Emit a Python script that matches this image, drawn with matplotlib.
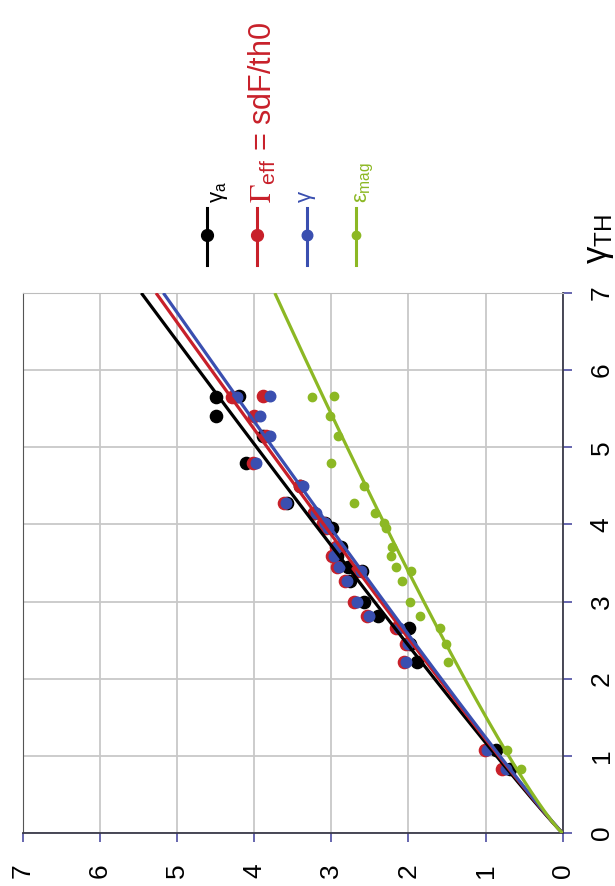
import numpy as np
import matplotlib.pyplot as plt

plt.rcParams['font.family'] = ['Liberation Sans', 'DejaVu Sans']
plt.rcParams['mathtext.fontset'] = 'custom'
plt.rcParams['mathtext.rm'] = 'Liberation Sans'
plt.rcParams['mathtext.it'] = 'Liberation Sans'
plt.rcParams['mathtext.sf'] = 'Liberation Sans'
plt.rcParams['mathtext.bf'] = 'Liberation Sans:bold'

# gamma_TH for each sample (original x axis)
gth = [0.83, 1.07, 2.22, 2.45, 2.66, 2.81, 3.00, 3.27, 3.39, 3.45, 3.59,
       3.71, 3.95, 4.02, 4.15, 4.28, 4.50, 4.79, 5.15, 5.40, 5.65, 5.67]
gamma_a = [0.68, 0.87, 1.89, 1.98, 1.99, 2.39, 2.58, 2.76, 2.60, 2.78, 2.93,
           2.88, 2.99, 3.08, 3.22, 3.58, 3.40, 4.11, 3.89, 4.50, 4.50, 4.20]
gamma_eff = [0.78, 1.01, 2.06, 2.03, 2.16, 2.54, 2.70, 2.82, 2.66, 2.92, 2.99,
             2.94, 3.07, 3.11, 3.23, 3.61, 3.40, 4.02, 3.84, 4.00, 4.29, 3.89]
gamma = [0.74, 0.98, 2.03, 2.00, 2.12, 2.51, 2.67, 2.80, 2.62, 2.90, 2.97,
         2.92, 3.04, 3.08, 3.20, 3.59, 3.37, 3.98, 3.79, 3.93, 4.22, 3.79]
eps_mag = [0.54, 0.72, 1.49, 1.51, 1.59, 1.85, 1.98, 2.08, 1.97, 2.16, 2.22,
           2.21, 2.29, 2.31, 2.43, 2.70, 2.58, 3.00, 2.91, 3.01, 3.25, 2.96]

# power-law trend lines  y = a * gth**b
fit_a = [0.86, 0.83, 0.815, 0.70]
fit_b = [0.95, 0.95, 0.95, 0.86]

series = [gamma_a, gamma_eff, gamma, eps_mag]
colors = ['#000000', '#c8202a', '#3a4fb0', '#8cb824']
msizes = [8.8, 8.8, 7.6, 6.0]
labels = [r'$\gamma_{a}$', r'$\Gamma_{\mathregular{eff}}$ = sdF/th0', r'$\gamma$',
          r'$\varepsilon_{mag}$']
ticks = [0, 1, 2, 3, 4, 5, 6, 7]
tick_labels = ['0', '1', '2', '3', '4', '5', '6', '7']

fig = plt.figure(figsize=(6.15, 8.86), dpi=100)

# overlay in pixel coordinates for the rotated legend and axis title
leg = fig.add_axes([0, 0, 1, 1])
leg.set_xlim(0, 615)
leg.set_ylim(886, 0)
leg.axis('off')

ax = fig.add_axes([0.0369, 0.0598, 0.878, 0.6095])

# the chart is drawn rotated: value runs right-to-left, gamma_TH bottom-to-top
for vals, c, ms in zip(series, colors, msizes):
    ax.plot(vals, gth, 'o', ms=ms, color=c, mec=c, zorder=3)

xs = np.linspace(0, 7, 300)
for a, b, c in zip(fit_a, fit_b, colors):
    ax.plot(a * xs ** b, xs, color=c, lw=2.3, zorder=4, solid_capstyle='butt')

ax.set_xlim(7, 0)
ax.set_ylim(0, 7)
ax.set_xticks(ticks, labels=tick_labels, rotation=90, ha='center', va='top')
ax.yaxis.tick_right()
ax.set_yticks(ticks, labels=tick_labels, rotation=90, ha='left', va='center')
ax.tick_params(axis='both', direction='out', length=6.5, width=1.3,
               color='#5b5ba8', labelsize=19)
ax.tick_params(axis='x', pad=15)
ax.tick_params(axis='y', pad=13)
ax.grid(color='#c8c8c8', lw=1.3)
ax.set_axisbelow(True)
for side in ['bottom', 'right']:
    ax.spines[side].set_color('#3a3a4a')
    ax.spines[side].set_linewidth(1.3)
ax.spines['left'].set_color('#555555')
ax.spines['top'].set_color('#bdbdbd')

# legend entries
leg_x = [207, 257, 307, 356]
text_dx = [12, 6, 1, 9]
text_size = [16, 22, 16, 16]
for x, c, lab, dx, fs, ms in zip(leg_x, colors, labels, text_dx, text_size, msizes):
    leg.plot([x, x], [208, 265], color=c, lw=2.2)
    leg.plot([x], [235], 'o', color=c, ms=min(ms, 8.5))
    kw = {}
    if 'Gamma' in lab:
        kw['math_fontfamily'] = 'stix'
    leg.text(x + dx, 203, lab, color=c, fontsize=fs, rotation=90,
             rotation_mode='anchor', ha='left', va='center', **kw)

leg.text(599, 264, r'$\gamma_{\mathrm{TH}}$', fontsize=25, rotation=90,
         rotation_mode='anchor', ha='left', va='center')

fig.savefig('out.png', dpi=100)
